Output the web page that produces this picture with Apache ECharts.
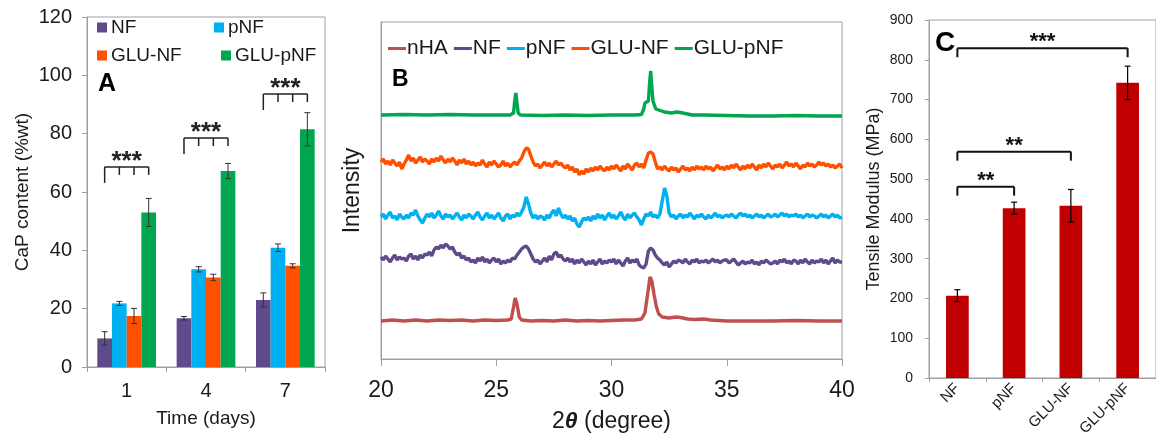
<!DOCTYPE html>
<html><head><meta charset="utf-8">
<script src="https://cdn.jsdelivr.net/npm/echarts@6/dist/echarts.min.js"></script>
<style>html,body{margin:0;padding:0;background:#fff}#c{width:1156px;height:439px}</style>
</head><body><div id="c"></div>
<script>
// ---------- Panel A data ----------
const days = ['1', '4', '7'];
const capNF = [9.8, 16.7, 23.0];
const errNF = [2.3, 0.6, 2.4];
const capPNF = [21.8, 33.5, 40.9];
const errPNF = [0.7, 0.9, 1.3];
const capGluNF = [17.5, 30.7, 34.7];
const errGluNF = [2.6, 1.1, 0.7];
const capGluPNF = [53.0, 67.2, 81.5];
const errGluPNF = [4.8, 2.6, 5.7];
const sigLevelA = [68.6, 78.5, 93.6];
const sigLabelA = ['***', '***', '***'];
const capTicks = [0, 20, 40, 60, 80, 100, 120];

// ---------- Panel B data (2θ grid and stacked XRD traces, arbitrary units) ----------
const twoTheta = [
20.0,20.1,20.2,20.3,20.4,20.5,20.6,20.7,20.8,20.9,
21.0,21.1,21.2,21.3,21.4,21.5,21.6,21.7,21.8,21.9,
22.0,22.1,22.2,22.3,22.4,22.5,22.6,22.7,22.8,22.9,
23.0,23.1,23.2,23.3,23.4,23.5,23.6,23.7,23.8,23.9,
24.0,24.1,24.2,24.3,24.4,24.5,24.6,24.7,24.8,24.9,
25.0,25.1,25.2,25.3,25.4,25.5,25.6,25.7,25.8,25.9,
26.0,26.1,26.2,26.3,26.4,26.5,26.6,26.7,26.8,26.9,
27.0,27.1,27.2,27.3,27.4,27.5,27.6,27.7,27.8,27.9,
28.0,28.1,28.2,28.3,28.4,28.5,28.6,28.7,28.8,28.9,
29.0,29.1,29.2,29.3,29.4,29.5,29.6,29.7,29.8,29.9,
30.0,30.1,30.2,30.3,30.4,30.5,30.6,30.7,30.8,30.9,
31.0,31.1,31.2,31.3,31.4,31.5,31.6,31.7,31.8,31.9,
32.0,32.1,32.2,32.3,32.4,32.5,32.6,32.7,32.8,32.9,
33.0,33.1,33.2,33.3,33.4,33.5,33.6,33.7,33.8,33.9,
34.0,34.1,34.2,34.3,34.4,34.5,34.6,34.7,34.8,34.9,
35.0,35.1,35.2,35.3,35.4,35.5,35.6,35.7,35.8,35.9,
36.0,36.1,36.2,36.3,36.4,36.5,36.6,36.7,36.8,36.9,
37.0,37.1,37.2,37.3,37.4,37.5,37.6,37.7,37.8,37.9,
38.0,38.1,38.2,38.3,38.4,38.5,38.6,38.7,38.8,38.9,
39.0,39.1,39.2,39.3,39.4,39.5,39.6,39.7,39.8,39.9,
40.0];
const xrdNF = [
102,99,103,100,97,101,104,99,102,100,
101,98,103,105,100,103,99,104,101,105,
104,107,103,109,112,110,114,111,115,113,
110,112,107,104,106,101,103,99,101,97,
99,96,101,98,102,97,100,96,99,101,
97,100,95,98,96,99,97,101,100,104,
107,110,112,113,110,105,100,97,99,95,
98,101,97,103,99,105,107,102,104,100,
98,101,97,100,95,99,96,100,97,94,
98,95,99,94,97,100,95,98,96,99,
97,100,95,99,96,93,98,101,96,99,
97,100,94,92,91,95,108,111,109,104,
101,99,96,94,97,92,95,98,96,99,
98,96,100,97,95,99,97,100,96,98,
97,99,96,98,100,97,99,96,98,99,
99,96,98,100,97,94,96,98,95,97,
96,99,95,97,94,98,96,99,97,95,
96,98,95,99,97,100,96,98,95,99,
98,95,99,96,100,97,95,99,96,98,
97,100,96,99,95,98,101,96,99,97,
97];
const xrdPNF = [
142,145,140,144,147,141,143,139,145,142,
140,144,141,146,144,149,143,139,136,141,
145,142,146,141,144,148,143,140,145,142,
144,140,143,146,142,139,144,141,145,143,
140,144,147,142,139,143,146,141,144,140,
143,146,141,138,143,145,140,144,142,146,
143,147,152,162,155,146,141,144,140,143,
142,139,144,141,146,149,143,151,145,141,
144,140,143,138,141,135,132,137,141,139,
142,138,143,140,145,141,144,139,143,146,
141,144,140,143,147,142,139,145,141,144,
146,142,139,134,140,145,143,147,142,144,
141,145,158,171,163,146,142,144,140,143,
145,141,144,142,146,143,140,144,142,145,
142,140,144,141,143,146,142,144,141,143,
144,142,145,143,141,144,146,143,145,142,
144,141,143,145,142,144,141,143,145,142,
143,145,142,144,146,143,145,142,144,143,
145,142,144,141,143,145,142,144,143,141,
143,145,142,144,141,143,145,142,144,141,
142];
const xrdGluNF = [
197,200,195,198,194,199,196,193,197,190,
195,199,204,198,201,196,199,202,197,200,
198,195,200,197,201,198,203,199,196,200,
197,201,198,194,199,196,200,195,198,194,
197,193,196,194,199,195,192,197,194,198,
195,192,194,198,193,196,192,195,197,194,
198,201,207,211,210,203,197,193,195,191,
194,197,193,196,192,195,198,194,196,193,
191,194,189,192,187,190,184,188,185,190,
187,191,188,192,189,193,190,188,192,189,
193,190,194,191,188,193,190,195,192,189,
194,196,192,195,191,199,206,207,205,197,
190,192,189,193,190,188,192,189,191,187,
190,193,189,191,188,192,189,193,190,192,
189,193,190,192,188,191,194,190,192,189,
193,190,194,191,195,192,189,193,190,194,
191,195,192,189,194,191,195,192,196,193,
190,194,192,195,191,194,197,193,195,192,
196,193,190,194,192,196,193,195,192,194,
197,194,196,193,195,192,194,191,193,195,
191];
const xrdNHA = [[20,38],[20.5,39],[21,38],[21.5,39],[22,38],[22.5,39],[23,38.5],[23.5,39],[24,38],[24.5,39],[25,38.5],[25.5,39],[25.65,40],[25.75,52],[25.82,61],[25.9,55],[26.0,42],[26.1,39],[26.5,38],[27,38.5],[27.5,38],[28,39],[28.5,38],[29,38.5],[29.5,38],[30,38.5],[30.5,39],[31,39],[31.3,40],[31.45,46],[31.55,62],[31.67,82],[31.75,78],[31.85,64],[31.95,52],[32.05,45],[32.2,42],[32.5,41],[32.8,42],[33.0,41.5],[33.3,40],[33.6,39.5],[34,40],[34.3,39],[35,38],[36,38],[37,38],[38,38.5],[39,38],[40,38]];
const xrdGluPNF = [[20,244],[21,244.5],[22,244],[23,244.5],[24,244],[25,244],[25.6,244],[25.75,246],[25.8,258],[25.85,266],[25.9,256],[25.95,246],[26.05,244],[27,243.5],[28,244],[29,243.5],[30,244],[31,244],[31.3,244.5],[31.4,250],[31.45,256],[31.6,258],[31.65,275],[31.7,288],[31.75,272],[31.8,258],[31.88,257],[31.92,250],[32.0,248],[32.3,247],[32.6,246],[32.85,247],[33.1,246],[33.5,244],[34,244],[35,243.5],[36,243],[37,243],[38,243.5],[39,243],[40,243]];
const thetaTicks = [20, 25, 30, 35, 40];

// ---------- Panel C data ----------
const samples = ['NF', 'pNF', 'GLU-NF', 'GLU-pNF'];
const modulus = [207, 427, 433, 742];
const modulusErr = [15, 15, 41, 42];
const sigC = [[0, 3, 829], [0, 2, 569], [0, 1, 481]];
const sigLabelC = ['***', '**', '**'];

// ---------- styling ----------
const FONT = 'Liberation Sans, Arial, sans-serif';
const TXT = '#1a1a1a';
const AX = '#a0a0a0';
const colors = {'NF': '#5f4a8b', 'pNF': '#00b0f0', 'GLU-NF': '#ff5000', 'GLU-pNF': '#00a650', 'nHA': '#c0504d'};

const aVals = [capNF, capPNF, capGluNF, capGluPNF];
const aErrs = [errNF, errPNF, errGluNF, errGluPNF];
const CAT_GAP = 0.26;

const errAData = [];
for (let s = 0; s < 4; s++) for (let c = 0; c < days.length; c++) errAData.push([c, s, aVals[s][c], aErrs[s][c]]);
const sigAData = sigLevelA.map((v, i) => [i, v]);
const errCData = modulus.map((v, i) => [i, v, modulusErr[i]]);

function ln(x1, y1, x2, y2, w, col) {
  return {type: 'line', shape: {x1, y1, x2, y2}, style: {stroke: col || '#000', lineWidth: w || 1}};
}

const chart = echarts.init(document.getElementById('c'));

const seriesA = samples.map((n, s) => ({
  type: 'bar', name: n, xAxisIndex: 0, yAxisIndex: 0, data: aVals[s],
  barGap: '0%', barCategoryGap: (CAT_GAP * 100) + '%', itemStyle: {color: colors[n]}
}));

const seriesB = [
  ['nHA', xrdNHA], ['NF', xrdNF.map((v, i) => [twoTheta[i], v])], ['pNF', xrdPNF.map((v, i) => [twoTheta[i], v])],
  ['GLU-NF', xrdGluNF.map((v, i) => [twoTheta[i], v])], ['GLU-pNF', xrdGluPNF]
].map(([n, d]) => ({
  type: 'line', name: n, xAxisIndex: 1, yAxisIndex: 1, data: d, showSymbol: false, symbol: 'none',
  lineStyle: {color: colors[n], width: 3.4}, itemStyle: {color: colors[n]}
}));

const option = {
  animation: false,
  backgroundColor: '#fff',
  textStyle: {fontFamily: FONT},
  title: [
    {text: 'A', left: 98, top: 72, padding: 0, textStyle: {fontSize: 25, fontWeight: 'bold', color: '#000', fontFamily: FONT}},
    {text: 'B', left: 392, top: 68, padding: 0, textStyle: {fontSize: 23, fontWeight: 'bold', color: '#000', fontFamily: FONT}},
    {text: 'C', left: 935, top: 29, padding: 0, textStyle: {fontSize: 28, fontWeight: 'bold', color: '#000', fontFamily: FONT}}
  ],
  legend: [
    {data: ['NF'], left: 97, top: 18},
    {data: ['pNF'], left: 214, top: 18},
    {data: ['GLU-NF'], left: 97, top: 46},
    {data: ['GLU-pNF'], left: 221, top: 46},
  ].map(l => Object.assign(l, {icon: 'rect', itemWidth: 10, itemHeight: 10, padding: 0, selectedMode: false,
      textStyle: {fontSize: 19, color: TXT, fontFamily: FONT, padding: [0, 0, 0, -1]}}))
   .concat([{data: ['nHA', 'NF', 'pNF', 'GLU-NF', 'GLU-pNF'], left: 388, top: 38, icon: 'rect', itemWidth: 18, itemHeight: 3,
      itemGap: 6, padding: 0, selectedMode: false, textStyle: {fontSize: 21, color: TXT, fontFamily: FONT, padding: [0, 0, 0, -4]}}]),
  grid: [
    {left: 87, top: 17, width: 238, height: 350, show: true, borderColor: AX, borderWidth: 1, backgroundColor: 'transparent'},
    {left: 381, top: 22, width: 461, height: 337, show: true, borderColor: AX, borderWidth: 1, backgroundColor: 'transparent'},
    {left: 929, top: 20, width: 230, height: 358, show: true, borderColor: AX, borderWidth: 1, backgroundColor: 'transparent'}
  ],
  xAxis: [
    {type: 'category', gridIndex: 0, data: days,
     axisLine: {lineStyle: {color: AX}}, axisTick: {show: true, length: 5, lineStyle: {color: AX}},
     axisLabel: {fontSize: 20, color: TXT, margin: 14, fontFamily: FONT},
     name: 'Time (days)', nameLocation: 'middle', nameGap: 42, nameTextStyle: {fontSize: 19, color: TXT, fontFamily: FONT}},
    {type: 'value', gridIndex: 1, min: 20, max: 40, interval: 5, splitLine: {show: false},
     axisLine: {onZero: false, lineStyle: {color: AX}}, axisTick: {show: true, length: 7, lineStyle: {color: AX}},
     axisLabel: {fontSize: 23, color: TXT, margin: 20, fontFamily: FONT,
       formatter: v => thetaTicks.includes(v) ? String(v) : ''},
     name: '2{t|θ} (degree)', nameLocation: 'middle', nameGap: 51,
     nameTextStyle: {fontSize: 23, color: TXT, fontFamily: FONT,
       rich: {t: {fontSize: 23, fontWeight: 'bold', fontStyle: 'italic', color: TXT, fontFamily: FONT}}}},
    {type: 'category', gridIndex: 2, data: samples,
     axisLine: {lineStyle: {color: AX}}, axisTick: {show: true, length: 4, lineStyle: {color: AX}},
     axisLabel: {fontSize: 15, color: TXT, rotate: 45, margin: 8, interval: 0, fontFamily: FONT}}
  ],
  yAxis: [
    {type: 'value', gridIndex: 0, min: 0, max: 120, interval: 20, splitLine: {show: false},
     axisLine: {show: true, lineStyle: {color: AX}}, axisTick: {show: true, length: 5, lineStyle: {color: AX}},
     axisLabel: {fontSize: 20, color: TXT, margin: 15, fontFamily: FONT,
       formatter: v => capTicks.includes(v) ? String(v) : ''},
     name: 'CaP content (%wt)', nameLocation: 'middle', nameGap: 55, nameRotate: 90,
     nameTextStyle: {fontSize: 19, color: TXT, fontFamily: FONT}},
    {type: 'value', gridIndex: 1, min: 0, max: 337, splitLine: {show: false},
     axisLine: {show: true, lineStyle: {color: AX}}, axisTick: {show: false}, axisLabel: {show: false},
     name: 'Intensity', nameLocation: 'middle', nameGap: 17, nameRotate: 90,
     nameTextStyle: {fontSize: 23, color: TXT, fontFamily: FONT}},
    {type: 'value', gridIndex: 2, min: 0, max: 900, interval: 100, splitLine: {show: false},
     axisLine: {show: true, lineStyle: {color: AX}}, axisTick: {show: true, length: 4, lineStyle: {color: AX}},
     axisLabel: {fontSize: 14, color: TXT, margin: 16, fontFamily: FONT},
     name: 'Tensile Modulus (MPa)', nameLocation: 'middle', nameGap: 46, nameRotate: 90,
     nameTextStyle: {fontSize: 18, color: TXT, fontFamily: FONT}}
  ],
  series: seriesA.concat([
    {type: 'custom', xAxisIndex: 0, yAxisIndex: 0, data: errAData, encode: {x: 0, y: 2}, silent: true, z: 5,
     renderItem: (p, api) => {
       const c = api.value(0), s = api.value(1), v = api.value(2), e = api.value(3);
       const band = api.size([1, 0])[0];
       const bw = band * (1 - CAT_GAP) / 4;
       const x = api.coord([c, v])[0] + (s - 1.5) * bw;
       const yt = api.coord([c, v + e])[1], yb = api.coord([c, v - e])[1];
       return {type: 'group', children: [ln(x, yt, x, yb, 1, '#333'), ln(x - 3, yt, x + 3, yt, 1, '#333'), ln(x - 3, yb, x + 3, yb, 1, '#333')]};
     }},
    {type: 'custom', xAxisIndex: 0, yAxisIndex: 0, data: sigAData, encode: {x: 0, y: 1}, silent: true, z: 5,
     renderItem: (p, api) => {
       const c = api.value(0), v = api.value(1);
       const band = api.size([1, 0])[0];
       const bw = band * (1 - CAT_GAP) / 4;
       const pt = api.coord([c, v]);
       const xs = [-1.5, -0.5, 0.5, 1.5].map(k => pt[0] + k * bw);
       const y = pt[1];
       const ch = [ln(xs[0], y, xs[3], y, 1.5, '#222'), ln(xs[0], y, xs[0], y + 16, 1.5, '#222')];
       for (let k = 1; k < 4; k++) ch.push(ln(xs[k], y, xs[k], y + 8, 1.5, '#222'));
       ch.push({type: 'text', x: pt[0], y: y - 5, style: {text: sigLabelA[p.dataIndex], fill: '#222', fontSize: 26, fontWeight: 'bold', fontFamily: FONT, align: 'center', verticalAlign: 'middle'}});
       return {type: 'group', children: ch};
     }}
  ]).concat(seriesB).concat([
    {type: 'bar', name: 'Tensile Modulus', xAxisIndex: 2, yAxisIndex: 2, data: modulus, barWidth: '40%', itemStyle: {color: '#c00000'}},
    {type: 'custom', xAxisIndex: 2, yAxisIndex: 2, data: errCData, encode: {x: 0, y: 1}, silent: true, z: 5,
     renderItem: (p, api) => {
       const c = api.value(0), v = api.value(1), e = api.value(2);
       const x = api.coord([c, v])[0];
       const yt = api.coord([c, v + e])[1], yb = api.coord([c, v - e])[1];
       return {type: 'group', children: [ln(x, yt, x, yb, 1.2, '#000'), ln(x - 3, yt, x + 3, yt, 1.2, '#000'), ln(x - 3, yb, x + 3, yb, 1.2, '#000')]};
     }},
    {type: 'custom', xAxisIndex: 2, yAxisIndex: 2, data: sigC, encode: {x: 0, y: 2}, silent: true, z: 5,
     renderItem: (p, api) => {
       const a = api.value(0), b = api.value(1), v = api.value(2);
       const p0 = api.coord([a, v]), p1 = api.coord([b, v]);
       const y = p0[1];
       return {type: 'group', children: [
         ln(p0[0], y, p1[0], y, 2, '#111'), ln(p0[0], y, p0[0], y + 9, 2, '#111'), ln(p1[0], y, p1[0], y + 9, 2, '#111'),
         {type: 'text', x: (p0[0] + p1[0]) / 2, y: y - 6, style: {text: sigLabelC[p.dataIndex], fill: '#111', fontSize: 22, fontWeight: 'bold', fontFamily: FONT, align: 'center', verticalAlign: 'middle'}}
       ]};
     }}
  ])
};
chart.setOption(option);
</script></body></html>
